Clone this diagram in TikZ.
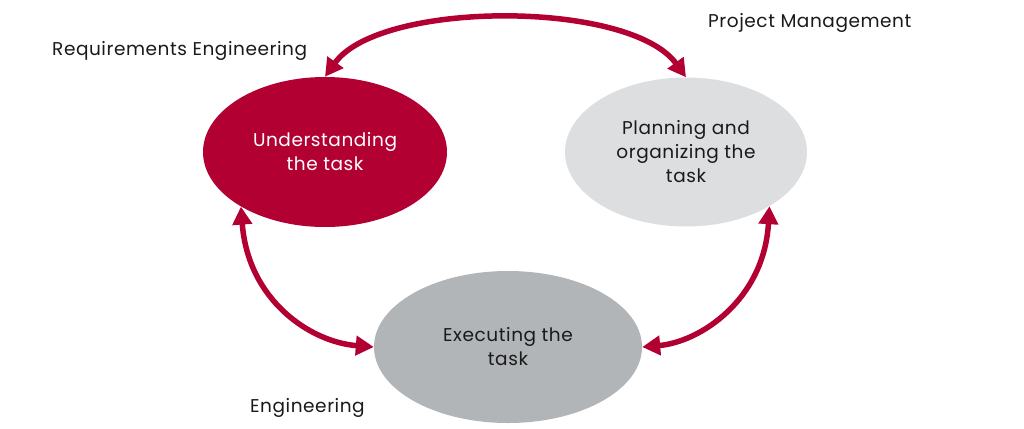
\documentclass[tikz,border=0pt]{standalone}
\usepackage{fontspec}
\setmainfont{Poppins}[LetterSpace=3]
\usetikzlibrary{shapes.geometric,arrows.meta}
\definecolor{tred}{HTML}{B30033}
\definecolor{lgray}{HTML}{DCDEE0}
\definecolor{dgray}{HTML}{B2B5B8}
\definecolor{txt}{HTML}{1A1A1A}
\tikzset{
  blob/.style={ellipse,inner sep=0pt,align=center,font=\fontsize{18.5}{24}\selectfont},
  lbl/.style={anchor=west,inner sep=0pt,text=txt,font=\fontsize{18.5}{24}\selectfont},
  link/.style={draw=tred,line width=5.5pt,{Triangle[length=18pt,width=19pt]}-{Triangle[length=18pt,width=19pt]}}
}
\begin{document}
\begin{tikzpicture}[x=1pt,y=-1pt]
\useasboundingbox[fill=white] (0,0) rectangle (1024,428);
\node[blob,fill=tred,text=white,minimum width=244pt,minimum height=150pt] (und) at (325,152) {Understanding\\the task};
\node[blob,fill=lgray,text=txt,minimum width=242pt,minimum height=149pt] (plan) at (686,152) {Planning and\\organizing the\\task};
\node[blob,fill=dgray,text=txt,minimum width=268pt,minimum height=152pt] (exe) at (508,347) {Executing the\\task};
\node[lbl] (re) at (52,50.5) {Requirements Engineering};
\node[lbl] (pm) at (708,22.5) {Project Management};
\node[lbl] (en) at (250,408) {Engineering};
\draw[link] (und.north) .. controls (380,0) and (630,0) .. (plan.north);
\draw[link] (und.213) .. controls (248,300) and (310,342) .. (exe.west);
\draw[link] (plan.327) .. controls (764,300) and (700,342) .. (exe.east);
\end{tikzpicture}
\end{document}
